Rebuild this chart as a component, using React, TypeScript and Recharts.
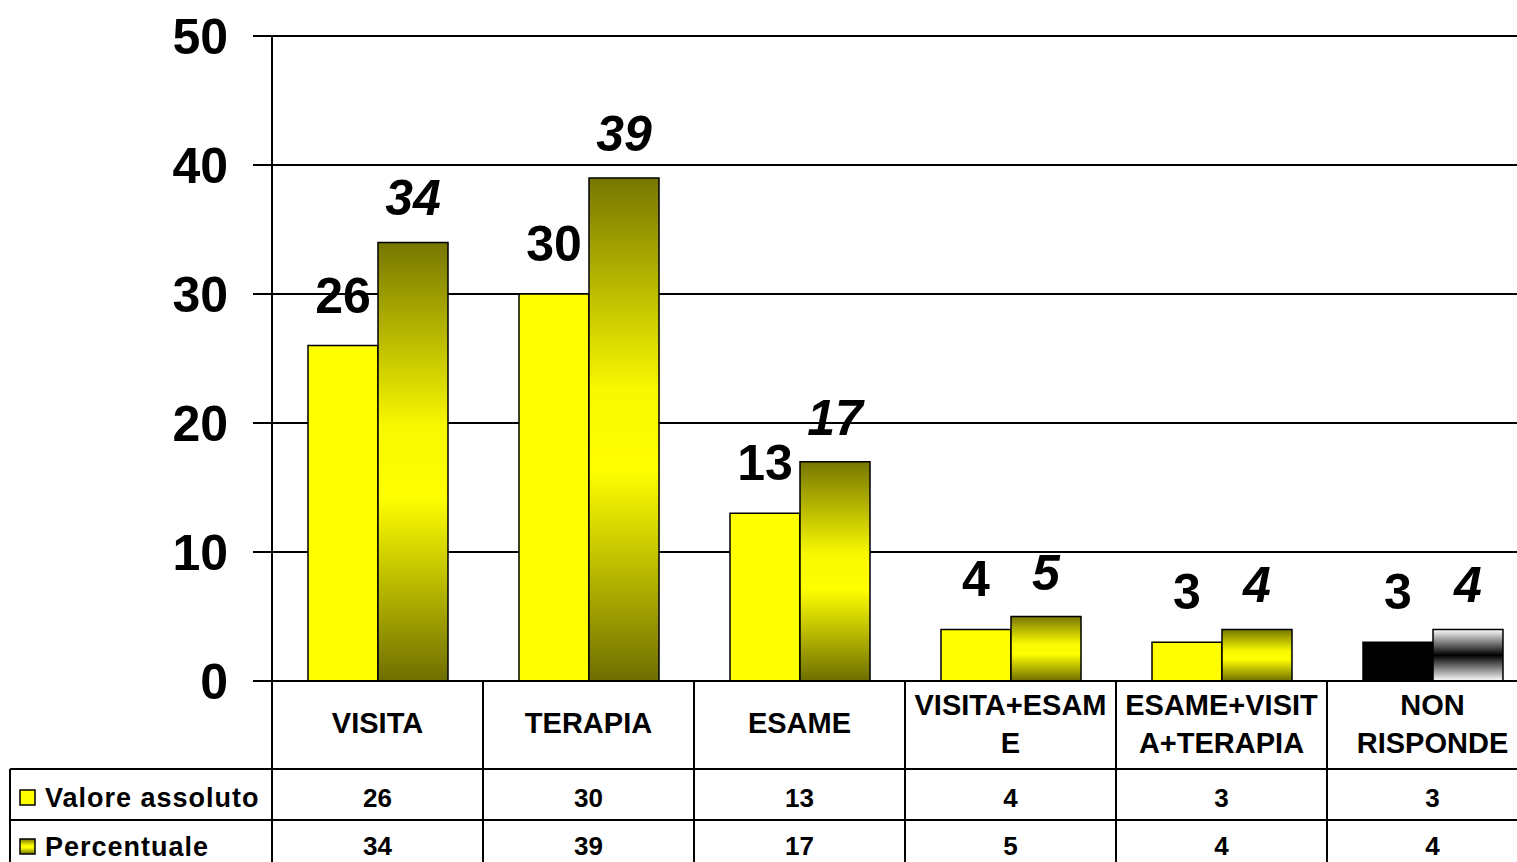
import { BarChart, Bar, XAxis, YAxis, CartesianGrid, LabelList, Cell } from "recharts";

const categories = ["VISITA", "TERAPIA", "ESAME", "VISITA+ESAME", "ESAME+VISITA+TERAPIA", "NON RISPONDE"];
// wrapped the way the original table breaks them
const categoryLines = [["VISITA"], ["TERAPIA"], ["ESAME"], ["VISITA+ESAM", "E"], ["ESAME+VISIT", "A+TERAPIA"], ["NON", "RISPONDE"]];
const valoreAssoluto = [26, 30, 13, 4, 3, 3];
const percentuale = [34, 39, 17, 5, 4, 4];
const seriesNames = ["Valore assoluto", "Percentuale"];
const yTicks = [0, 10, 20, 30, 40, 50];

const data = categories.map((name, i) => ({
  name,
  valore: valoreAssoluto[i],
  perc: percentuale[i],
}));

const FONT = '"Liberation Sans", Arial, sans-serif';
const BAND = 211;

function TableTick(props: any) {
  const { x, y, payload } = props;
  let i = payload?.index;
  if (i == null) i = categories.indexOf(payload?.value);
  const left = x - BAND / 2;
  const right = x + BAND / 2;
  const lines = categoryLines[i] || [];
  const rowLeft = i === 0 ? 10 : left;
  const txt = { fontFamily: FONT, fontWeight: "bold" as const, fill: "#000" };

  return (
    <g>
      <line x1={left} x2={left} y1={y} y2={y + 240} stroke="#000" strokeWidth={2} />
      <line x1={rowLeft} x2={right} y1={y + 88} y2={y + 88} stroke="#000" strokeWidth={2} />
      <line x1={rowLeft} x2={right} y1={y + 139} y2={y + 139} stroke="#000" strokeWidth={2} />
      {lines.length === 1 ? (
        <text x={x} y={y + 52} textAnchor="middle" fontSize={29} {...txt}>
          {lines[0]}
        </text>
      ) : (
        lines.map((l, k) => (
          <text key={k} x={x} y={y + 34 + k * 38} textAnchor="middle" fontSize={29} {...txt}>
            {l}
          </text>
        ))
      )}
      <text x={x} y={y + 126} textAnchor="middle" fontSize={26} {...txt}>
        {valoreAssoluto[i]}
      </text>
      <text x={x} y={y + 174} textAnchor="middle" fontSize={26} {...txt}>
        {percentuale[i]}
      </text>
      {i === 0 && (
        <g>
          <line x1={10} x2={10} y1={y + 88} y2={y + 240} stroke="#000" strokeWidth={2} />
          <rect x={20} y={y + 109} width={15} height={15} fill="#ffff00" stroke="#000" strokeWidth={1.5} />
          <text x={45} y={y + 126} fontSize={27} letterSpacing={1} {...txt}>
            {seriesNames[0]}
          </text>
          <rect x={20} y={y + 158} width={15} height={15} fill="url(#olive)" stroke="#000" strokeWidth={1.5} />
          <text x={45} y={y + 175} fontSize={27} letterSpacing={1} {...txt}>
            {seriesNames[1]}
          </text>
        </g>
      )}
    </g>
  );
}

export default function App() {
  return (
    <div
      style={{
        position: "fixed",
        left: 0,
        top: 0,
        width: 1517,
        height: 862,
        overflow: "hidden",
        background: "#fff",
      }}
    >
      <BarChart
        width={1538}
        height={890}
        data={data}
        margin={{ top: 36, right: 0, bottom: 0, left: 0 }}
        barGap={0}
        barSize={70}
      >
        <defs>
          <linearGradient id="olive" x1="0" y1="0" x2="0" y2="1">
            <stop offset="0%" stopColor="#767600" />
            <stop offset="42%" stopColor="#f8f800" />
            <stop offset="58%" stopColor="#ffff00" />
            <stop offset="100%" stopColor="#6e6e00" />
          </linearGradient>
          <linearGradient id="silver" x1="0" y1="0" x2="0" y2="1">
            <stop offset="0%" stopColor="#ffffff" />
            <stop offset="50%" stopColor="#000000" />
            <stop offset="100%" stopColor="#ffffff" />
          </linearGradient>
        </defs>
        <CartesianGrid vertical={false} stroke="#000" strokeWidth={1.8} />
        <XAxis
          dataKey="name"
          interval={0}
          height={209}
          tickLine={false}
          tickSize={0}
          tickMargin={0}
          axisLine={{ stroke: "#000", strokeWidth: 2 }}
          tick={(p: any) => <TableTick {...p} />}
        />
        <YAxis
          width={272}
          domain={[0, 50]}
          ticks={yTicks}
          interval={0}
          tickSize={19}
          tickMargin={25}
          axisLine={{ stroke: "#000", strokeWidth: 2 }}
          tickLine={{ stroke: "#000", strokeWidth: 2 }}
          tick={{ fontSize: 50, fontWeight: "bold", fill: "#000", fontFamily: FONT }}
        />
        <Bar dataKey="valore" fill="#ffff00" stroke="#000" strokeWidth={1.5} isAnimationActive={false}>
          {data.map((_, i) => (
            <Cell key={i} fill={i === 5 ? "#000000" : "#ffff00"} />
          ))}
          <LabelList
            dataKey="valore"
            position="top"
            offset={33}
            style={{ fontSize: 50, fontWeight: "bold", fill: "#000", fontFamily: FONT }}
          />
        </Bar>
        <Bar dataKey="perc" fill="url(#olive)" stroke="#000" strokeWidth={1.5} isAnimationActive={false}>
          {data.map((_, i) => (
            <Cell key={i} fill={i === 5 ? "url(#silver)" : "url(#olive)"} />
          ))}
          <LabelList
            dataKey="perc"
            position="top"
            offset={27}
            style={{ fontSize: 50, fontWeight: "bold", fontStyle: "italic", fill: "#000", fontFamily: FONT }}
          />
        </Bar>
      </BarChart>
    </div>
  );
}
